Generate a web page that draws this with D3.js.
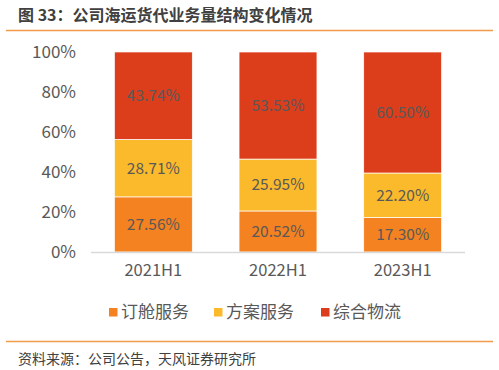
<!DOCTYPE html>
<html><head><meta charset="utf-8">
<script src="https://cdn.jsdelivr.net/npm/d3@7"></script>
<style>body{margin:0;background:#fff;}svg{display:block;}</style>
</head><body>
<svg id="c" width="499" height="370"></svg>
<script>
const categories = ["2021H1","2022H1","2023H1"];
const seriesNames = ["订舱服务","方案服务","综合物流"];
const booking = [27.56, 20.52, 17.30];
const solution = [28.71, 25.95, 22.20];
const logistics = [43.74, 53.53, 60.50];
const yTicks = [0,20,40,60,80,100];
const colors = ["#F58220","#FBBA2B","#DC3D1B"];
const font = "'Noto Sans CJK SC','Noto Sans',sans-serif";

const svg = d3.select("#c");
svg.append("text").attr("x",18).attr("y",21).attr("font-family",font).attr("font-size",16).attr("font-weight","bold").attr("fill","#404040").text("图 33：公司海运货代业务量结构变化情况");
svg.append("line").attr("x1",6).attr("x2",493).attr("y1",30.5).attr("y2",30.5).attr("stroke","#F29B4C").attr("stroke-width",1.5);
svg.append("line").attr("x1",6).attr("x2",493).attr("y1",341.5).attr("y2",341.5).attr("stroke","#F29B4C").attr("stroke-width",1.5);
svg.append("text").attr("x",18).attr("y",364).attr("font-family",font).attr("font-size",14).attr("fill","#404040").text("资料来源：公司公告，天风证券研究所");

const x = d3.scaleBand().domain(categories).range([91,465]).paddingInner(0.375).paddingOuter(0.1875);
const y = d3.scaleLinear().domain([0,100]).range([252,52]);

const data = categories.map((c,i)=>({cat:c, [seriesNames[0]]:booking[i], [seriesNames[1]]:solution[i], [seriesNames[2]]:logistics[i]}));
const stack = d3.stack().keys(seriesNames)(data);

const g = svg.append("g");
stack.forEach((s,si)=>{
  g.selectAll(null).data(s).enter().append("rect")
    .attr("x",d=>x(d.data.cat)).attr("width",x.bandwidth())
    .attr("y",d=>y(d[1])).attr("height",d=>y(d[0])-y(d[1]))
    .attr("fill",colors[si]).attr("stroke","#fff").attr("stroke-width",0.7);
  g.selectAll(null).data(s).enter().append("text")
    .attr("x",d=>x(d.data.cat)+x.bandwidth()/2).attr("y",d=>y((d[0]+d[1])/2))
    .attr("dy","0.35em").attr("text-anchor","middle")
    .attr("font-family",font).attr("font-size",15.5).attr("fill","#595959")
    .text(d=>(d[1]-d[0]).toFixed(2)+"%");
});

// x axis
svg.append("line").attr("x1",91).attr("x2",465).attr("y1",252.5).attr("y2",252.5).attr("stroke","#d9d9d9").attr("stroke-width",1.5);
const xa = svg.append("g").attr("transform","translate(0,252)").call(d3.axisBottom(x).tickSize(0).tickPadding(12));
xa.select(".domain").remove();
xa.selectAll("text").attr("font-family",font).attr("font-size",16.5).attr("fill","#595959");

const ya = svg.append("g").attr("transform","translate(76,0)").call(d3.axisLeft(y).tickValues(yTicks).tickSize(0).tickPadding(0).tickFormat(d=>d+"%"));
ya.select(".domain").remove();
ya.selectAll("text").attr("font-family",font).attr("font-size",17).attr("fill","#595959");

// legend
const legX = [109,214,321];
const leg = svg.append("g");
seriesNames.forEach((n,i)=>{
  leg.append("rect").attr("x",legX[i]).attr("y",308).attr("width",8.5).attr("height",8.5).attr("fill",colors[i]);
  leg.append("text").attr("x",legX[i]+12).attr("y",312.5).attr("dy","0.35em").attr("font-family",font).attr("font-size",17).attr("fill","#595959").text(n);
});
</script>
</body></html>
